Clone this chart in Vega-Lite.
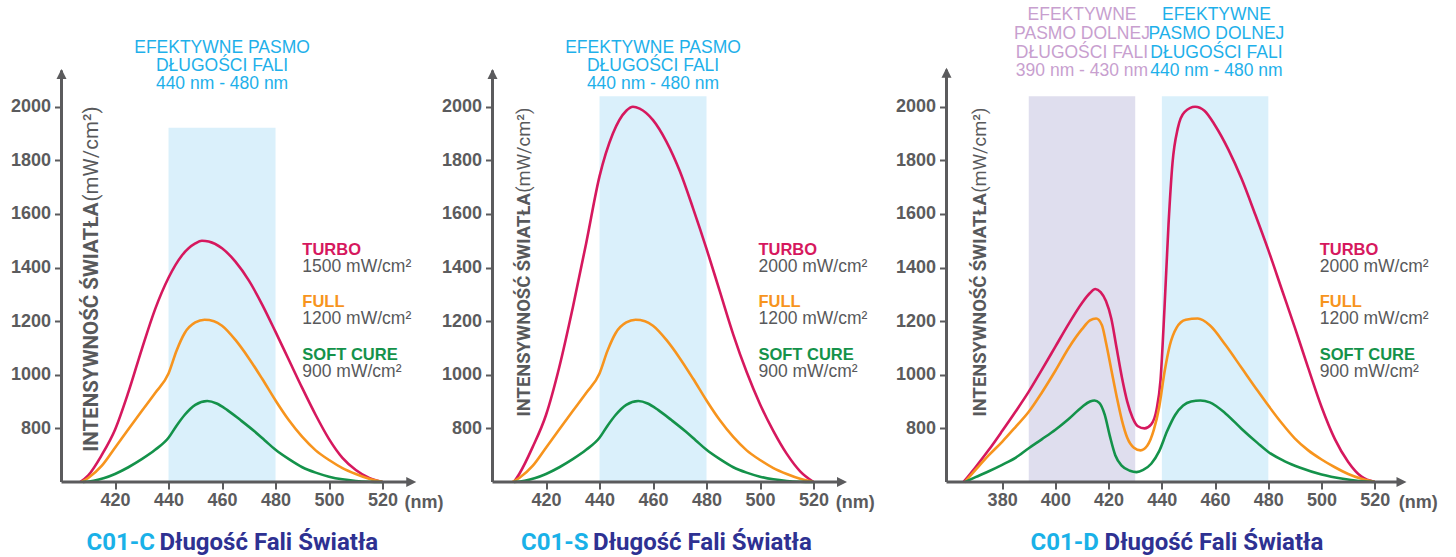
{
  "$schema": "https://vega.github.io/schema/vega-lite/v6.json",
  "background": "white",
  "padding": {"left": 9.5, "top": 0, "right": 0, "bottom": 0},
  "bounds": "flush",
  "spacing": 0,
  "config": {
    "view": {"stroke": null},
    "axis": {"domain": false, "grid": false, "tickSize": 7, "tickWidth": 2, "tickColor": "#5b5b5d", "labelFont": "Liberation Sans", "labelFontWeight": "bold", "labelFontSize": 18, "labelColor": "#5b5b5d", "labelOverlap": false, "labelFlush": false, "format": "d"},
    "axisX": {"labelPadding": 2},
    "axisY": {"labelPadding": 4}
  },
  "hconcat": [
    {
      "width": 430.5, "height": 482,
      "encoding": {
        "x": {"field": "nm", "type": "quantitative", "title": null, "scale": {"domain": [400, 560.9], "nice": false, "zero": false}, "axis": {"values": [420, 440, 460, 480, 500, 520]}},
        "y": {"field": "val", "type": "quantitative", "title": null, "scale": {"domain": [600, 2398], "nice": false, "zero": false}, "axis": {"values": [800, 1000, 1200, 1400, 1600, 1800, 2000]}}
      },
      "layer": [
        {"data": {"values": [{"nm": 440, "nm2": 480, "val": 600, "val2": 1921, "band": "blue"}]},
         "mark": {"type": "rect"},
         "encoding": {"x2": {"field": "nm2"}, "y2": {"field": "val2"}, "fill": {"field": "band", "type": "nominal", "scale": {"domain": ["blue", "purple"], "range": ["#daf0fb", "#dfdeee"]}, "legend": null}}},
        {"data": {"values": [
          {"mode": "TURBO", "nm": 407, "val": 600}, {"mode": "TURBO", "nm": 410, "val": 625}, {"mode": "TURBO", "nm": 415, "val": 700}, {"mode": "TURBO", "nm": 420, "val": 795}, {"mode": "TURBO", "nm": 425, "val": 935}, {"mode": "TURBO", "nm": 430, "val": 1095}, {"mode": "TURBO", "nm": 435, "val": 1245}, {"mode": "TURBO", "nm": 440, "val": 1362}, {"mode": "TURBO", "nm": 445, "val": 1445}, {"mode": "TURBO", "nm": 450, "val": 1490}, {"mode": "TURBO", "nm": 452.5, "val": 1500}, {"mode": "TURBO", "nm": 455, "val": 1497}, {"mode": "TURBO", "nm": 460, "val": 1472}, {"mode": "TURBO", "nm": 465, "val": 1422}, {"mode": "TURBO", "nm": 470, "val": 1352}, {"mode": "TURBO", "nm": 475, "val": 1262}, {"mode": "TURBO", "nm": 480, "val": 1160}, {"mode": "TURBO", "nm": 485, "val": 1055}, {"mode": "TURBO", "nm": 490, "val": 950}, {"mode": "TURBO", "nm": 495, "val": 850}, {"mode": "TURBO", "nm": 500, "val": 760}, {"mode": "TURBO", "nm": 505, "val": 690}, {"mode": "TURBO", "nm": 510, "val": 645}, {"mode": "TURBO", "nm": 515, "val": 615}, {"mode": "TURBO", "nm": 520, "val": 600},
          {"mode": "FULL", "nm": 407.5, "val": 600}, {"mode": "FULL", "nm": 410, "val": 615}, {"mode": "FULL", "nm": 415, "val": 660}, {"mode": "FULL", "nm": 420, "val": 728}, {"mode": "FULL", "nm": 425, "val": 797}, {"mode": "FULL", "nm": 430, "val": 865}, {"mode": "FULL", "nm": 435, "val": 932}, {"mode": "FULL", "nm": 440, "val": 1005}, {"mode": "FULL", "nm": 443, "val": 1090}, {"mode": "FULL", "nm": 446, "val": 1155}, {"mode": "FULL", "nm": 450, "val": 1195}, {"mode": "FULL", "nm": 453.5, "val": 1205}, {"mode": "FULL", "nm": 457, "val": 1200}, {"mode": "FULL", "nm": 460, "val": 1183}, {"mode": "FULL", "nm": 465, "val": 1130}, {"mode": "FULL", "nm": 470, "val": 1062}, {"mode": "FULL", "nm": 475, "val": 985}, {"mode": "FULL", "nm": 480, "val": 904}, {"mode": "FULL", "nm": 485, "val": 830}, {"mode": "FULL", "nm": 490, "val": 768}, {"mode": "FULL", "nm": 495, "val": 718}, {"mode": "FULL", "nm": 500, "val": 682}, {"mode": "FULL", "nm": 505, "val": 652}, {"mode": "FULL", "nm": 510, "val": 630}, {"mode": "FULL", "nm": 515, "val": 612}, {"mode": "FULL", "nm": 520, "val": 600},
          {"mode": "SOFT CURE", "nm": 408, "val": 600}, {"mode": "SOFT CURE", "nm": 412, "val": 605}, {"mode": "SOFT CURE", "nm": 416, "val": 615}, {"mode": "SOFT CURE", "nm": 420, "val": 630}, {"mode": "SOFT CURE", "nm": 425, "val": 655}, {"mode": "SOFT CURE", "nm": 430, "val": 685}, {"mode": "SOFT CURE", "nm": 435, "val": 720}, {"mode": "SOFT CURE", "nm": 440, "val": 765}, {"mode": "SOFT CURE", "nm": 443, "val": 810}, {"mode": "SOFT CURE", "nm": 446, "val": 850}, {"mode": "SOFT CURE", "nm": 450, "val": 888}, {"mode": "SOFT CURE", "nm": 454.5, "val": 902}, {"mode": "SOFT CURE", "nm": 458, "val": 893}, {"mode": "SOFT CURE", "nm": 462, "val": 868}, {"mode": "SOFT CURE", "nm": 467, "val": 830}, {"mode": "SOFT CURE", "nm": 472, "val": 790}, {"mode": "SOFT CURE", "nm": 476, "val": 755}, {"mode": "SOFT CURE", "nm": 480, "val": 720}, {"mode": "SOFT CURE", "nm": 485, "val": 685}, {"mode": "SOFT CURE", "nm": 490, "val": 655}, {"mode": "SOFT CURE", "nm": 495, "val": 635}, {"mode": "SOFT CURE", "nm": 500, "val": 620}, {"mode": "SOFT CURE", "nm": 505, "val": 610}, {"mode": "SOFT CURE", "nm": 510, "val": 604}, {"mode": "SOFT CURE", "nm": 515, "val": 601}, {"mode": "SOFT CURE", "nm": 520, "val": 600}
        ]},
         "mark": {"type": "line", "interpolate": "monotone", "strokeWidth": 2.6},
         "encoding": {"color": {"field": "mode", "type": "nominal", "scale": {"domain": ["TURBO", "FULL", "SOFT CURE"], "range": ["#d6185e", "#f7941d", "#14924a"]}, "legend": null}}},
        {"data": {"values": [{"nm": 400, "nm2": 530, "val": 600, "val2": 600}, {"nm": 400, "nm2": 400, "val": 600, "val2": 2135}]},
         "mark": {"type": "rule", "color": "#5b5b5d", "strokeWidth": 3},
         "encoding": {"x2": {"field": "nm2"}, "y2": {"field": "val2"}}},
        {"data": {"values": [{"nm": 532.6, "val": 600, "dir": "right"}, {"nm": 400, "val": 2141, "dir": "up"}]},
         "mark": {"type": "point", "filled": true, "size": 100, "color": "#5b5b5d", "opacity": 1, "strokeWidth": 0},
         "encoding": {"shape": {"field": "dir", "type": "nominal", "scale": {"domain": ["right", "up"], "range": ["M0,0L-2,-1L-2,1Z", "M0,0L-1,2L1,2Z"]}, "legend": null}}},
        {"data": {"values": [{"mode": "TURBO", "nm": 490, "val": 1447.6}, {"mode": "FULL", "nm": 490, "val": 1252}, {"mode": "SOFT CURE", "nm": 490, "val": 1055.5}]},
         "mark": {"type": "text", "align": "left", "baseline": "alphabetic", "font": "Liberation Sans", "fontWeight": "bold", "fontSize": 16.5},
         "encoding": {"text": {"field": "mode"}, "color": {"field": "mode", "type": "nominal", "scale": {"domain": ["TURBO", "FULL", "SOFT CURE"], "range": ["#d6185e", "#f7941d", "#14924a"]}, "legend": null}}},
        {"data": {"values": [{"label": "1500 mW/cm²", "nm": 490, "val": 1385}, {"label": "1200 mW/cm²", "nm": 490, "val": 1190}, {"label": "900 mW/cm²", "nm": 490, "val": 990.5}]},
         "mark": {"type": "text", "align": "left", "baseline": "alphabetic", "font": "Liberation Sans", "fontSize": 17.5, "color": "#58595b"},
         "encoding": {"text": {"field": "label"}}},
        {"data": {"values": [{"label": "EFEKTYWNE PASMO", "nm": 460, "val": 2201}, {"label": "DŁUGOŚCI FALI", "nm": 460, "val": 2132}, {"label": "440 nm - 480 nm", "nm": 460, "val": 2066}]},
         "mark": {"type": "text", "align": "center", "baseline": "alphabetic", "font": "Liberation Sans", "fontSize": 17.5, "color": "#1eb0ea"},
         "encoding": {"text": {"field": "label"}}},
        {"data": {"values": [{"label": "(nm)", "nm": 528.2, "val": 503}]},
         "mark": {"type": "text", "align": "left", "baseline": "alphabetic", "font": "Liberation Sans", "fontWeight": "bold", "fontSize": 18, "color": "#5b5b5d"},
         "encoding": {"text": {"field": "label"}}},
        {"data": {"values": [{"label": "INTENSYWNOŚĆ ŚWIATŁA", "nm": 413.6, "val": 713}]},
         "mark": {"type": "text", "angle": 270, "align": "left", "baseline": "alphabetic", "font": "Roboto", "fontWeight": "bold", "fontSize": 20.5, "color": "#58595b"},
         "encoding": {"text": {"field": "label"}}},
        {"data": {"values": [{"label": "(mW/cm²)", "nm": 413.6, "val": 2001}]},
         "mark": {"type": "text", "angle": 270, "align": "right", "baseline": "alphabetic", "font": "Roboto", "fontWeight": "normal", "fontSize": 20.5, "color": "#58595b"},
         "encoding": {"text": {"field": "label"}}},
        {"data": {"values": [{"label": "C01-C", "nm": 434.95, "val": 346}]},
         "mark": {"type": "text", "align": "right", "baseline": "alphabetic", "font": "Roboto", "fontWeight": "bold", "fontSize": 24, "color": "#1ab1e8"},
         "encoding": {"text": {"field": "label"}}},
        {"data": {"values": [{"label": "Długość Fali Światła", "nm": 436.6, "val": 346}]},
         "mark": {"type": "text", "align": "left", "baseline": "alphabetic", "font": "Roboto", "fontWeight": "bold", "fontSize": 24, "color": "#2e3192"},
         "encoding": {"text": {"field": "label"}}}
      ]
    },
    {
      "width": 453.2, "height": 482,
      "encoding": {
        "x": {"field": "nm", "type": "quantitative", "title": null, "scale": {"domain": [400, 569.4], "nice": false, "zero": false}, "axis": {"values": [420, 440, 460, 480, 500, 520]}},
        "y": {"field": "val", "type": "quantitative", "title": null, "scale": {"domain": [600, 2398], "nice": false, "zero": false}, "axis": {"values": [800, 1000, 1200, 1400, 1600, 1800, 2000]}}
      },
      "layer": [
        {"data": {"values": [{"nm": 440, "nm2": 480, "val": 600, "val2": 2039, "band": "blue"}]},
         "mark": {"type": "rect"},
         "encoding": {"x2": {"field": "nm2"}, "y2": {"field": "val2"}, "fill": {"field": "band", "type": "nominal", "scale": {"domain": ["blue", "purple"], "range": ["#daf0fb", "#dfdeee"]}, "legend": null}}},
        {"data": {"values": [
          {"mode": "TURBO", "nm": 408, "val": 600}, {"mode": "TURBO", "nm": 410, "val": 630}, {"mode": "TURBO", "nm": 415, "val": 730}, {"mode": "TURBO", "nm": 420, "val": 850}, {"mode": "TURBO", "nm": 425, "val": 1030}, {"mode": "TURBO", "nm": 430, "val": 1250}, {"mode": "TURBO", "nm": 435, "val": 1490}, {"mode": "TURBO", "nm": 440, "val": 1740}, {"mode": "TURBO", "nm": 445, "val": 1900}, {"mode": "TURBO", "nm": 450, "val": 1985}, {"mode": "TURBO", "nm": 452.5, "val": 2000}, {"mode": "TURBO", "nm": 455, "val": 1993}, {"mode": "TURBO", "nm": 460, "val": 1950}, {"mode": "TURBO", "nm": 465, "val": 1870}, {"mode": "TURBO", "nm": 470, "val": 1760}, {"mode": "TURBO", "nm": 475, "val": 1620}, {"mode": "TURBO", "nm": 480, "val": 1470}, {"mode": "TURBO", "nm": 485, "val": 1310}, {"mode": "TURBO", "nm": 490, "val": 1150}, {"mode": "TURBO", "nm": 495, "val": 1010}, {"mode": "TURBO", "nm": 500, "val": 890}, {"mode": "TURBO", "nm": 505, "val": 790}, {"mode": "TURBO", "nm": 510, "val": 705}, {"mode": "TURBO", "nm": 515, "val": 640}, {"mode": "TURBO", "nm": 520, "val": 600},
          {"mode": "FULL", "nm": 407.5, "val": 600}, {"mode": "FULL", "nm": 410, "val": 615}, {"mode": "FULL", "nm": 415, "val": 660}, {"mode": "FULL", "nm": 420, "val": 728}, {"mode": "FULL", "nm": 425, "val": 797}, {"mode": "FULL", "nm": 430, "val": 865}, {"mode": "FULL", "nm": 435, "val": 932}, {"mode": "FULL", "nm": 440, "val": 1005}, {"mode": "FULL", "nm": 443, "val": 1090}, {"mode": "FULL", "nm": 446, "val": 1155}, {"mode": "FULL", "nm": 450, "val": 1195}, {"mode": "FULL", "nm": 453.5, "val": 1205}, {"mode": "FULL", "nm": 457, "val": 1200}, {"mode": "FULL", "nm": 460, "val": 1183}, {"mode": "FULL", "nm": 465, "val": 1130}, {"mode": "FULL", "nm": 470, "val": 1062}, {"mode": "FULL", "nm": 475, "val": 985}, {"mode": "FULL", "nm": 480, "val": 904}, {"mode": "FULL", "nm": 485, "val": 830}, {"mode": "FULL", "nm": 490, "val": 768}, {"mode": "FULL", "nm": 495, "val": 718}, {"mode": "FULL", "nm": 500, "val": 682}, {"mode": "FULL", "nm": 505, "val": 652}, {"mode": "FULL", "nm": 510, "val": 630}, {"mode": "FULL", "nm": 515, "val": 612}, {"mode": "FULL", "nm": 520, "val": 600},
          {"mode": "SOFT CURE", "nm": 408, "val": 600}, {"mode": "SOFT CURE", "nm": 412, "val": 605}, {"mode": "SOFT CURE", "nm": 416, "val": 615}, {"mode": "SOFT CURE", "nm": 420, "val": 630}, {"mode": "SOFT CURE", "nm": 425, "val": 655}, {"mode": "SOFT CURE", "nm": 430, "val": 685}, {"mode": "SOFT CURE", "nm": 435, "val": 720}, {"mode": "SOFT CURE", "nm": 440, "val": 765}, {"mode": "SOFT CURE", "nm": 443, "val": 810}, {"mode": "SOFT CURE", "nm": 446, "val": 850}, {"mode": "SOFT CURE", "nm": 450, "val": 888}, {"mode": "SOFT CURE", "nm": 454.5, "val": 902}, {"mode": "SOFT CURE", "nm": 458, "val": 893}, {"mode": "SOFT CURE", "nm": 462, "val": 868}, {"mode": "SOFT CURE", "nm": 467, "val": 830}, {"mode": "SOFT CURE", "nm": 472, "val": 790}, {"mode": "SOFT CURE", "nm": 476, "val": 755}, {"mode": "SOFT CURE", "nm": 480, "val": 720}, {"mode": "SOFT CURE", "nm": 485, "val": 685}, {"mode": "SOFT CURE", "nm": 490, "val": 655}, {"mode": "SOFT CURE", "nm": 495, "val": 635}, {"mode": "SOFT CURE", "nm": 500, "val": 620}, {"mode": "SOFT CURE", "nm": 505, "val": 610}, {"mode": "SOFT CURE", "nm": 510, "val": 604}, {"mode": "SOFT CURE", "nm": 515, "val": 601}, {"mode": "SOFT CURE", "nm": 520, "val": 600}
        ]},
         "mark": {"type": "line", "interpolate": "monotone", "strokeWidth": 2.6},
         "encoding": {"color": {"field": "mode", "type": "nominal", "scale": {"domain": ["TURBO", "FULL", "SOFT CURE"], "range": ["#d6185e", "#f7941d", "#14924a"]}, "legend": null}}},
        {"data": {"values": [{"nm": 400, "nm2": 530, "val": 600, "val2": 600}, {"nm": 400, "nm2": 400, "val": 600, "val2": 2135}]},
         "mark": {"type": "rule", "color": "#5b5b5d", "strokeWidth": 3},
         "encoding": {"x2": {"field": "nm2"}, "y2": {"field": "val2"}}},
        {"data": {"values": [{"nm": 532.5, "val": 600, "dir": "right"}, {"nm": 400, "val": 2141, "dir": "up"}]},
         "mark": {"type": "point", "filled": true, "size": 100, "color": "#5b5b5d", "opacity": 1, "strokeWidth": 0},
         "encoding": {"shape": {"field": "dir", "type": "nominal", "scale": {"domain": ["right", "up"], "range": ["M0,0L-2,-1L-2,1Z", "M0,0L-1,2L1,2Z"]}, "legend": null}}},
        {"data": {"values": [{"mode": "TURBO", "nm": 499.4, "val": 1447.6}, {"mode": "FULL", "nm": 499.4, "val": 1252}, {"mode": "SOFT CURE", "nm": 499.4, "val": 1055.5}]},
         "mark": {"type": "text", "align": "left", "baseline": "alphabetic", "font": "Liberation Sans", "fontWeight": "bold", "fontSize": 16.5},
         "encoding": {"text": {"field": "mode"}, "color": {"field": "mode", "type": "nominal", "scale": {"domain": ["TURBO", "FULL", "SOFT CURE"], "range": ["#d6185e", "#f7941d", "#14924a"]}, "legend": null}}},
        {"data": {"values": [{"label": "2000 mW/cm²", "nm": 499.4, "val": 1385}, {"label": "1200 mW/cm²", "nm": 499.4, "val": 1190}, {"label": "900 mW/cm²", "nm": 499.4, "val": 990.5}]},
         "mark": {"type": "text", "align": "left", "baseline": "alphabetic", "font": "Liberation Sans", "fontSize": 17.5, "color": "#58595b"},
         "encoding": {"text": {"field": "label"}}},
        {"data": {"values": [{"label": "EFEKTYWNE PASMO", "nm": 460, "val": 2201}, {"label": "DŁUGOŚCI FALI", "nm": 460, "val": 2132}, {"label": "440 nm - 480 nm", "nm": 460, "val": 2066}]},
         "mark": {"type": "text", "align": "center", "baseline": "alphabetic", "font": "Liberation Sans", "fontSize": 17.5, "color": "#1eb0ea"},
         "encoding": {"text": {"field": "label"}}},
        {"data": {"values": [{"label": "(nm)", "nm": 528.3, "val": 503}]},
         "mark": {"type": "text", "align": "left", "baseline": "alphabetic", "font": "Liberation Sans", "fontWeight": "bold", "fontSize": 18, "color": "#5b5b5d"},
         "encoding": {"text": {"field": "label"}}},
        {"data": {"values": [{"label": "INTENSYWNOŚĆ ŚWIATŁA", "nm": 414.2, "val": 844}]},
         "mark": {"type": "text", "angle": 270, "align": "left", "baseline": "alphabetic", "font": "Roboto", "fontWeight": "bold", "fontSize": 18.4, "color": "#58595b"},
         "encoding": {"text": {"field": "label"}}},
        {"data": {"values": [{"label": "(mW/cm²)", "nm": 414.2, "val": 1997}]},
         "mark": {"type": "text", "angle": 270, "align": "right", "baseline": "alphabetic", "font": "Roboto", "fontWeight": "normal", "fontSize": 18.4, "color": "#58595b"},
         "encoding": {"text": {"field": "label"}}},
        {"data": {"values": [{"label": "C01-S", "nm": 435.9, "val": 346}]},
         "mark": {"type": "text", "align": "right", "baseline": "alphabetic", "font": "Roboto", "fontWeight": "bold", "fontSize": 24, "color": "#1ab1e8"},
         "encoding": {"text": {"field": "label"}}},
        {"data": {"values": [{"label": "Długość Fali Światła", "nm": 437.6, "val": 346}]},
         "mark": {"type": "text", "align": "left", "baseline": "alphabetic", "font": "Roboto", "fontWeight": "bold", "fontSize": 24, "color": "#2e3192"},
         "encoding": {"text": {"field": "label"}}}
      ]
    },
    {
      "width": 510.3, "height": 482,
      "encoding": {
        "x": {"field": "nm", "type": "quantitative", "title": null, "scale": {"domain": [359.1, 550.8], "nice": false, "zero": false}, "axis": {"values": [380, 400, 420, 440, 460, 480, 500, 520]}},
        "y": {"field": "val", "type": "quantitative", "title": null, "scale": {"domain": [600, 2398], "nice": false, "zero": false}, "axis": {"values": [800, 1000, 1200, 1400, 1600, 1800, 2000]}}
      },
      "layer": [
        {"data": {"values": [{"nm": 390, "nm2": 430, "val": 600, "val2": 2039, "band": "purple"}, {"nm": 440, "nm2": 480, "val": 600, "val2": 2039, "band": "blue"}]},
         "mark": {"type": "rect"},
         "encoding": {"x2": {"field": "nm2"}, "y2": {"field": "val2"}, "fill": {"field": "band", "type": "nominal", "scale": {"domain": ["blue", "purple"], "range": ["#daf0fb", "#dfdeee"]}, "legend": null}}},
        {"data": {"values": [
          {"mode": "TURBO", "nm": 365.5, "val": 600}, {"mode": "TURBO", "nm": 370, "val": 655}, {"mode": "TURBO", "nm": 375, "val": 720}, {"mode": "TURBO", "nm": 380, "val": 790}, {"mode": "TURBO", "nm": 385, "val": 862}, {"mode": "TURBO", "nm": 390, "val": 937}, {"mode": "TURBO", "nm": 395, "val": 1020}, {"mode": "TURBO", "nm": 400, "val": 1105}, {"mode": "TURBO", "nm": 405, "val": 1190}, {"mode": "TURBO", "nm": 410, "val": 1268}, {"mode": "TURBO", "nm": 413, "val": 1305}, {"mode": "TURBO", "nm": 415, "val": 1320}, {"mode": "TURBO", "nm": 417, "val": 1308}, {"mode": "TURBO", "nm": 419, "val": 1275}, {"mode": "TURBO", "nm": 421, "val": 1210}, {"mode": "TURBO", "nm": 423, "val": 1100}, {"mode": "TURBO", "nm": 425, "val": 990}, {"mode": "TURBO", "nm": 427, "val": 900}, {"mode": "TURBO", "nm": 429, "val": 840}, {"mode": "TURBO", "nm": 431, "val": 808}, {"mode": "TURBO", "nm": 433.5, "val": 800}, {"mode": "TURBO", "nm": 436, "val": 815}, {"mode": "TURBO", "nm": 438, "val": 870}, {"mode": "TURBO", "nm": 439.5, "val": 980}, {"mode": "TURBO", "nm": 441, "val": 1250}, {"mode": "TURBO", "nm": 442.5, "val": 1560}, {"mode": "TURBO", "nm": 444, "val": 1790}, {"mode": "TURBO", "nm": 446, "val": 1920}, {"mode": "TURBO", "nm": 448.5, "val": 1980}, {"mode": "TURBO", "nm": 452.5, "val": 2000}, {"mode": "TURBO", "nm": 456, "val": 1985}, {"mode": "TURBO", "nm": 460, "val": 1930}, {"mode": "TURBO", "nm": 465, "val": 1840}, {"mode": "TURBO", "nm": 470, "val": 1730}, {"mode": "TURBO", "nm": 475, "val": 1600}, {"mode": "TURBO", "nm": 480, "val": 1465}, {"mode": "TURBO", "nm": 485, "val": 1320}, {"mode": "TURBO", "nm": 490, "val": 1175}, {"mode": "TURBO", "nm": 495, "val": 1025}, {"mode": "TURBO", "nm": 500, "val": 880}, {"mode": "TURBO", "nm": 505, "val": 760}, {"mode": "TURBO", "nm": 510, "val": 675}, {"mode": "TURBO", "nm": 515, "val": 620}, {"mode": "TURBO", "nm": 520, "val": 600},
          {"mode": "FULL", "nm": 366, "val": 600}, {"mode": "FULL", "nm": 370, "val": 645}, {"mode": "FULL", "nm": 375, "val": 700}, {"mode": "FULL", "nm": 380, "val": 750}, {"mode": "FULL", "nm": 385, "val": 805}, {"mode": "FULL", "nm": 390, "val": 862}, {"mode": "FULL", "nm": 395, "val": 935}, {"mode": "FULL", "nm": 400, "val": 1015}, {"mode": "FULL", "nm": 405, "val": 1100}, {"mode": "FULL", "nm": 410, "val": 1170}, {"mode": "FULL", "nm": 413, "val": 1203}, {"mode": "FULL", "nm": 415.3, "val": 1210}, {"mode": "FULL", "nm": 417.5, "val": 1185}, {"mode": "FULL", "nm": 419, "val": 1120}, {"mode": "FULL", "nm": 421, "val": 1020}, {"mode": "FULL", "nm": 423, "val": 920}, {"mode": "FULL", "nm": 425, "val": 830}, {"mode": "FULL", "nm": 427, "val": 765}, {"mode": "FULL", "nm": 429.5, "val": 728}, {"mode": "FULL", "nm": 432, "val": 718}, {"mode": "FULL", "nm": 434.5, "val": 735}, {"mode": "FULL", "nm": 437, "val": 795}, {"mode": "FULL", "nm": 439, "val": 880}, {"mode": "FULL", "nm": 441, "val": 1010}, {"mode": "FULL", "nm": 443, "val": 1110}, {"mode": "FULL", "nm": 445.5, "val": 1175}, {"mode": "FULL", "nm": 449, "val": 1205}, {"mode": "FULL", "nm": 453.5, "val": 1210}, {"mode": "FULL", "nm": 458, "val": 1185}, {"mode": "FULL", "nm": 464, "val": 1110}, {"mode": "FULL", "nm": 470, "val": 1025}, {"mode": "FULL", "nm": 476, "val": 940}, {"mode": "FULL", "nm": 480, "val": 885}, {"mode": "FULL", "nm": 485, "val": 820}, {"mode": "FULL", "nm": 490, "val": 762}, {"mode": "FULL", "nm": 495, "val": 718}, {"mode": "FULL", "nm": 500, "val": 684}, {"mode": "FULL", "nm": 505, "val": 655}, {"mode": "FULL", "nm": 510, "val": 630}, {"mode": "FULL", "nm": 515, "val": 612}, {"mode": "FULL", "nm": 520, "val": 600},
          {"mode": "SOFT CURE", "nm": 366, "val": 600}, {"mode": "SOFT CURE", "nm": 370, "val": 618}, {"mode": "SOFT CURE", "nm": 375, "val": 640}, {"mode": "SOFT CURE", "nm": 380, "val": 664}, {"mode": "SOFT CURE", "nm": 385, "val": 690}, {"mode": "SOFT CURE", "nm": 390, "val": 726}, {"mode": "SOFT CURE", "nm": 395, "val": 760}, {"mode": "SOFT CURE", "nm": 400, "val": 795}, {"mode": "SOFT CURE", "nm": 405, "val": 835}, {"mode": "SOFT CURE", "nm": 410, "val": 880}, {"mode": "SOFT CURE", "nm": 413, "val": 900}, {"mode": "SOFT CURE", "nm": 414.7, "val": 904}, {"mode": "SOFT CURE", "nm": 416.5, "val": 895}, {"mode": "SOFT CURE", "nm": 418.5, "val": 852}, {"mode": "SOFT CURE", "nm": 420.5, "val": 770}, {"mode": "SOFT CURE", "nm": 422.5, "val": 700}, {"mode": "SOFT CURE", "nm": 425, "val": 660}, {"mode": "SOFT CURE", "nm": 428, "val": 642}, {"mode": "SOFT CURE", "nm": 430.5, "val": 637}, {"mode": "SOFT CURE", "nm": 433, "val": 645}, {"mode": "SOFT CURE", "nm": 436, "val": 668}, {"mode": "SOFT CURE", "nm": 439, "val": 715}, {"mode": "SOFT CURE", "nm": 442, "val": 790}, {"mode": "SOFT CURE", "nm": 445, "val": 850}, {"mode": "SOFT CURE", "nm": 448, "val": 885}, {"mode": "SOFT CURE", "nm": 451, "val": 900}, {"mode": "SOFT CURE", "nm": 454.5, "val": 904}, {"mode": "SOFT CURE", "nm": 458, "val": 897}, {"mode": "SOFT CURE", "nm": 464, "val": 855}, {"mode": "SOFT CURE", "nm": 470, "val": 798}, {"mode": "SOFT CURE", "nm": 476, "val": 745}, {"mode": "SOFT CURE", "nm": 480, "val": 712}, {"mode": "SOFT CURE", "nm": 486, "val": 678}, {"mode": "SOFT CURE", "nm": 492, "val": 653}, {"mode": "SOFT CURE", "nm": 500, "val": 628}, {"mode": "SOFT CURE", "nm": 508, "val": 612}, {"mode": "SOFT CURE", "nm": 514, "val": 604}, {"mode": "SOFT CURE", "nm": 520, "val": 600}
        ]},
         "mark": {"type": "line", "interpolate": "monotone", "strokeWidth": 2.6},
         "encoding": {"color": {"field": "mode", "type": "nominal", "scale": {"domain": ["TURBO", "FULL", "SOFT CURE"], "range": ["#d6185e", "#f7941d", "#14924a"]}, "legend": null}}},
        {"data": {"values": [{"nm": 359.1, "nm2": 529.5, "val": 600, "val2": 600}, {"nm": 359.1, "nm2": 359.1, "val": 600, "val2": 2138}]},
         "mark": {"type": "rule", "color": "#5b5b5d", "strokeWidth": 3},
         "encoding": {"x2": {"field": "nm2"}, "y2": {"field": "val2"}}},
        {"data": {"values": [{"nm": 531.9, "val": 600, "dir": "right"}, {"nm": 359.1, "val": 2145, "dir": "up"}]},
         "mark": {"type": "point", "filled": true, "size": 100, "color": "#5b5b5d", "opacity": 1, "strokeWidth": 0},
         "encoding": {"shape": {"field": "dir", "type": "nominal", "scale": {"domain": ["right", "up"], "range": ["M0,0L-2,-1L-2,1Z", "M0,0L-1,2L1,2Z"]}, "legend": null}}},
        {"data": {"values": [{"mode": "TURBO", "nm": 499.3, "val": 1447.6}, {"mode": "FULL", "nm": 499.3, "val": 1252}, {"mode": "SOFT CURE", "nm": 499.3, "val": 1055.5}]},
         "mark": {"type": "text", "align": "left", "baseline": "alphabetic", "font": "Liberation Sans", "fontWeight": "bold", "fontSize": 16.5},
         "encoding": {"text": {"field": "mode"}, "color": {"field": "mode", "type": "nominal", "scale": {"domain": ["TURBO", "FULL", "SOFT CURE"], "range": ["#d6185e", "#f7941d", "#14924a"]}, "legend": null}}},
        {"data": {"values": [{"label": "2000 mW/cm²", "nm": 499.3, "val": 1385}, {"label": "1200 mW/cm²", "nm": 499.3, "val": 1190}, {"label": "900 mW/cm²", "nm": 499.3, "val": 990.5}]},
         "mark": {"type": "text", "align": "left", "baseline": "alphabetic", "font": "Liberation Sans", "fontSize": 17.5, "color": "#58595b"},
         "encoding": {"text": {"field": "label"}}},
        {"data": {"values": [{"label": "EFEKTYWNE", "nm": 410, "val": 2322.6}, {"label": "PASMO DOLNEJ", "nm": 410, "val": 2254}, {"label": "DŁUGOŚCI FALI", "nm": 410, "val": 2182}, {"label": "390 nm - 430 nm", "nm": 410, "val": 2113}]},
         "mark": {"type": "text", "align": "center", "baseline": "alphabetic", "font": "Liberation Sans", "fontSize": 17.5, "color": "#c89fcf"},
         "encoding": {"text": {"field": "label"}}},
        {"data": {"values": [{"label": "EFEKTYWNE", "nm": 460.5, "val": 2322.6}, {"label": "PASMO DOLNEJ", "nm": 460.5, "val": 2254}, {"label": "DŁUGOŚCI FALI", "nm": 460.5, "val": 2182}, {"label": "440 nm - 480 nm", "nm": 460.5, "val": 2113}]},
         "mark": {"type": "text", "align": "center", "baseline": "alphabetic", "font": "Liberation Sans", "fontSize": 17.5, "color": "#1eb0ea"},
         "encoding": {"text": {"field": "label"}}},
        {"data": {"values": [{"label": "(nm)", "nm": 529, "val": 503}]},
         "mark": {"type": "text", "align": "left", "baseline": "alphabetic", "font": "Liberation Sans", "fontWeight": "bold", "fontSize": 18, "color": "#5b5b5d"},
         "encoding": {"text": {"field": "label"}}},
        {"data": {"values": [{"label": "INTENSYWNOŚĆ ŚWIATŁA", "nm": 374.05, "val": 844}]},
         "mark": {"type": "text", "angle": 270, "align": "left", "baseline": "alphabetic", "font": "Roboto", "fontWeight": "bold", "fontSize": 18.4, "color": "#58595b"},
         "encoding": {"text": {"field": "label"}}},
        {"data": {"values": [{"label": "(mW/cm²)", "nm": 374.05, "val": 1997}]},
         "mark": {"type": "text", "angle": 270, "align": "right", "baseline": "alphabetic", "font": "Roboto", "fontWeight": "normal", "fontSize": 18.4, "color": "#58595b"},
         "encoding": {"text": {"field": "label"}}},
        {"data": {"values": [{"label": "C01-D", "nm": 416.3, "val": 346}]},
         "mark": {"type": "text", "align": "right", "baseline": "alphabetic", "font": "Roboto", "fontWeight": "bold", "fontSize": 24, "color": "#1ab1e8"},
         "encoding": {"text": {"field": "label"}}},
        {"data": {"values": [{"label": "Długość Fali Światła", "nm": 418.5, "val": 346}]},
         "mark": {"type": "text", "align": "left", "baseline": "alphabetic", "font": "Roboto", "fontWeight": "bold", "fontSize": 24, "color": "#2e3192"},
         "encoding": {"text": {"field": "label"}}}
      ]
    }
  ]
}
